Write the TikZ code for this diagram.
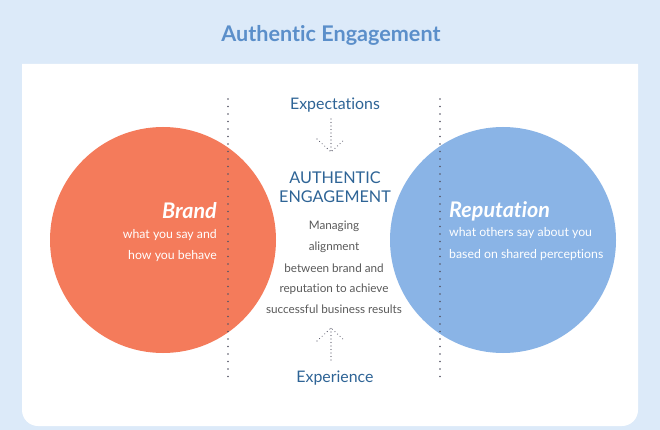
\documentclass[tikz,border=0pt]{standalone}
\usepackage{fontspec}
\setmainfont[Ligatures={NoCommon}]{Lato}
\usetikzlibrary{calc}
\definecolor{bgblue}{HTML}{DCEAF9}
\definecolor{titleblue}{HTML}{5B8FCA}
\definecolor{brandor}{HTML}{F47B5B}
\definecolor{repblue}{HTML}{8AB4E6}
\definecolor{darkblue}{HTML}{2E6496}
\definecolor{txtgray}{HTML}{5A5A5A}
\definecolor{dotgray}{HTML}{555566}
\tikzset{
  sep/.style={dotgray, line width=1.8pt, line cap=round, dash pattern=on 0pt off 7.5pt},
  arr/.style={dotgray, line width=1.1pt, line cap=round, dash pattern=on 0pt off 3.5pt},
  desc/.style={text=txtgray, font=\fontsize{11.7}{13}\selectfont, inner sep=0pt},
  wtxt/.style={text=white, font=\fontsize{12.3}{14}\selectfont, inner sep=0pt},
  big/.style={text=white, font=\fontsize{21.5}{24}\selectfont\bfseries\itshape, inner sep=0pt},
  lab/.style={text=darkblue, font=\fontsize{15.9}{18}\selectfont, inner sep=0pt}
}
\begin{document}
\begin{tikzpicture}[x=1pt,y=-1pt]
\fill[bgblue] (0,0) rectangle (660,430);
\useasboundingbox (0,0) rectangle (660,430);
\fill[white] (22,64) -- (638,64) -- (638,410) arc[start angle=0,end angle=90,radius=16,y=1pt] -- (38,426) arc[start angle=90,end angle=180,radius=16,y=1pt] -- cycle;
\node[text=titleblue, font=\fontsize{21.6}{24}\selectfont\bfseries, inner sep=0pt] (title) at (331,35) {Authentic Engagement};
\fill[brandor] (163,240) circle[radius=113];
\fill[repblue] (503,240) circle[radius=113];
\coordinate (s1a) at (228,99);
\coordinate (s1b) at (228,378);
\coordinate (s2a) at (440,99);
\coordinate (s2b) at (440,378);
\draw[sep] (s1a) -- (s1b);
\draw[sep] (s2a) -- (s2b);
\node[lab] (exp) at (335,105) {Expectations};
\node[lab] (expr) at (335,378) {Experience};
\coordinate (ea) at (331,119);
\coordinate (eb) at (331,152);
\draw[arr] (ea) -- (eb);
\draw[arr] ($(eb)+(-14,-13)$) -- (eb) -- ($(eb)+(14,-13)$);
\coordinate (xa) at (331,360);
\coordinate (xb) at (331,328);
\draw[arr] (xa) -- (xb);
\draw[arr] ($(xb)+(-14,13)$) -- (xb) -- ($(xb)+(14,13)$);
\node[lab, font=\fontsize{16.2}{19}\selectfont] (ae1) at (335,178) {AUTHENTIC};
\node[lab, font=\fontsize{16.2}{19}\selectfont] (ae2) at (335,197) {ENGAGEMENT};
\node[desc] (d1) at (334,226) {Managing};
\node[desc] (d2) at (334,247) {alignment};
\node[desc] (d3) at (334,268) {between brand and};
\node[desc] (d4) at (334,289) {reputation to achieve};
\node[desc] (d5) at (334,309) {successful business results};
\node[big, anchor=east] (brand) at (217,211) {Brand};
\node[wtxt, anchor=east] (b1) at (217,235) {what you say and};
\node[wtxt, anchor=east] (b2) at (217,256) {how you behave};
\node[big, anchor=west] (rep) at (449,211) {Reputation};
\node[wtxt, anchor=west] (r1) at (449,233) {what others say about you};
\node[wtxt, anchor=west] (r2) at (449,255) {based on shared perceptions};
\end{tikzpicture}
\end{document}
